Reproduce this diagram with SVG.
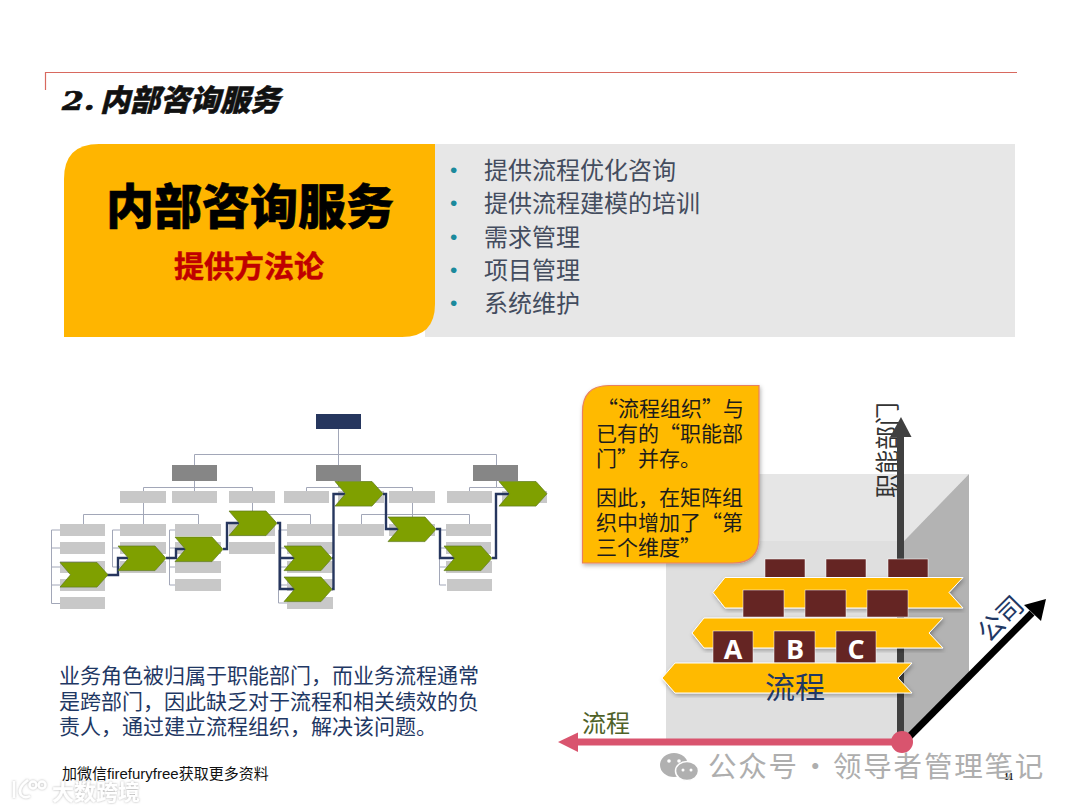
<svg xmlns="http://www.w3.org/2000/svg" width="1080" height="810" viewBox="0 0 1080 810" lang="zh-CN">
<style>
text{font-family:"Noto Sans CJK SC","Noto Sans",sans-serif}
.bul{font-size:24px;fill:#434c5e}
.dot{font-size:21px;fill:#1b8a9c;font-family:"Liberation Sans",sans-serif}
.body{font-size:21px;fill:#1f3864}
.call{font-size:21px;fill:#1c1c1c}
.n1{fill:#26365e}.n2{fill:#868686}.n3{fill:#c8c8c8}
.thin{fill:none;stroke:#a2a7b8;stroke-width:1}
.chev{fill:#7fa000;stroke:#5f7a1c;stroke-width:.7}
.flow{fill:none;stroke:#26365e;stroke-width:2.400}
.rib{fill:#ffba00;stroke:#fff;stroke-width:1}
.sq{fill:#652523;stroke:#fff;stroke-width:.5}
.abc{font-size:27px;font-weight:700;fill:#fff;text-anchor:middle;font-family:"Open Sans","Noto Sans",sans-serif}
.wm{font-size:28.500px;fill:#aeaeae;letter-spacing:1.800px}
</style>
<defs>
<filter id="sh" x="-10%" y="-10%" width="125%" height="125%"><feDropShadow dx="1" dy="2" stdDeviation="2" flood-color="#000" flood-opacity=".3"/></filter>
<filter id="ws" x="-20%" y="-30%" width="140%" height="160%"><feDropShadow dx="0" dy="0" stdDeviation="1.300" flood-color="#777" flood-opacity=".6"/></filter>
<g id="c"><path class="chev" d="M0 0H37L48 12.300L37 24.600H0L10.500 12.300Z"/></g>
</defs>

<rect width="1080" height="810" fill="#fff"/>

<g id="header">
<path d="M45.500 90V72.500H1017" fill="none" stroke="#d8695f" stroke-width="1.200"/>
<text transform="translate(62 110) scale(1.120 .9)" font-size="28" font-weight="900" font-style="italic" fill="#111" stroke="#111" stroke-width=".8" style="font-family:'DejaVu Serif',serif">2.</text>
<text x="100" y="111" font-size="30" font-weight="900" font-style="italic" fill="#111" stroke="#111" stroke-width=".5">内部咨询服务</text>
</g>

<g id="panel">
<rect x="425" y="144" width="590" height="193" fill="#e7e7e7"/>
<path d="M64 337V179Q64 144 99 144H435V304Q435 337 402 337Z" fill="#ffb500"/>
<text x="250" y="224" font-size="48" font-weight="900" text-anchor="middle" fill="#000" stroke="#000" stroke-width=".6">内部咨询服务</text>
<text x="249" y="277" font-size="30" font-weight="700" text-anchor="middle" fill="#c00000" stroke="#c00000" stroke-width=".5">提供方法论</text>
<g>
<text class="dot" x="450" y="177">•</text><text class="bul" x="484" y="179">提供流程优化咨询</text>
<text class="dot" x="450" y="210">•</text><text class="bul" x="484" y="212">提供流程建模的培训</text>
<text class="dot" x="450" y="244">•</text><text class="bul" x="484" y="246">需求管理</text>
<text class="dot" x="450" y="277">•</text><text class="bul" x="484" y="279">项目管理</text>
<text class="dot" x="450" y="310">•</text><text class="bul" x="484" y="312">系统维护</text>
</g>
</g>

<g id="org-lines">
<path class="thin" d="M338.500 429V465M194.500 465V454.500H496.500V465M194.500 481V491M143.500 491V487.500H252.500V491M306.500 491V487.500H412.500V491M338.500 481V488M496.500 481V487.500H469.500V491M496.500 487.500H525V491"/>
<path class="thin" d="M143.500 503V524M83.500 524V514.500H198.500V524M252.500 503V514.500H310.500V524M412.500 503V524M361.500 524V514.500H469.500V524"/>
<path class="thin" d="M60 530H51.500V603.500H60M51.500 548H60M51.500 567H60M51.500 585H60"/>
<path class="thin" d="M120 530H112.500V567H120M112.500 548H120"/>
<path class="thin" d="M175 530H169.500V585H175M169.500 548H175M169.500 567H175"/>
<path class="thin" d="M287 530H278.500V603H287M278.500 548H287M278.500 567H287M278.500 585H287"/>
<path class="thin" d="M446 530H439.500V585H446M439.500 548H446M439.500 567H446"/>
</g>

<g id="org-nodes">
<rect class="n1" x="316" y="414" width="45" height="15"/>
<rect class="n2" x="172" y="465" width="45" height="16"/><rect class="n2" x="316" y="465" width="45" height="16"/><rect class="n2" x="473" y="465" width="45" height="16"/>
<g class="n3">
<rect x="120" y="491" width="46" height="12"/><rect x="172" y="491" width="45" height="12"/><rect x="229" y="491" width="46" height="12"/><rect x="284" y="491" width="45" height="12"/><rect x="338" y="491" width="46" height="12"/><rect x="389" y="491" width="46" height="12"/><rect x="447" y="491" width="45" height="12"/><rect x="502" y="491" width="45" height="12"/>
<rect x="60" y="524" width="45" height="12"/><rect x="120" y="524" width="46" height="12"/><rect x="175" y="524" width="46" height="12"/><rect x="229" y="524" width="46" height="12"/><rect x="287" y="524" width="46" height="12"/><rect x="338" y="524" width="46" height="12"/><rect x="389" y="524" width="46" height="12"/><rect x="446" y="524" width="45" height="12"/>
<rect x="60" y="542" width="45" height="12"/><rect x="120" y="542" width="46" height="12"/><rect x="175" y="542" width="46" height="12"/><rect x="229" y="542" width="46" height="12"/><rect x="287" y="542" width="46" height="12"/><rect x="446" y="542" width="45" height="12"/>
<rect x="60" y="561" width="45" height="12"/><rect x="120" y="561" width="46" height="12"/><rect x="175" y="561" width="46" height="12"/><rect x="287" y="561" width="46" height="12"/><rect x="446" y="561" width="46" height="12"/>
<rect x="60" y="579" width="45" height="12"/><rect x="175" y="579" width="46" height="12"/><rect x="287" y="579" width="46" height="12"/><rect x="447" y="579" width="45" height="12"/>
<rect x="60" y="597" width="45" height="12"/><rect x="287" y="597" width="46" height="12"/>
</g>
</g>

<g id="connectors">
<path class="flow" d="M107 575H118V558H128M166 558H176V549H186M223 549H227V523H239M277 523H280V589H295M280 558H295M332 589H333.500V494H345M332 558H333.500M383 494H386V529H399M436 529H440V558H455M492 558H496V494H509"/>
</g>

<g id="org-chevrons">
<use href="#c" x="60" y="562.500"/><use href="#c" x="118" y="546"/><use href="#c" x="175" y="537"/><use href="#c" x="229" y="511"/><use href="#c" x="284" y="546"/><use href="#c" x="284" y="577"/><use href="#c" x="335" y="481.500"/><use href="#c" x="388" y="517"/><use href="#c" x="444" y="546"/><use href="#c" x="499" y="481.500"/>
</g>

<g id="body-text">
<text class="body" x="59" y="683">业务角色被归属于职能部门，而业务流程通常</text>
<text class="body" x="59" y="709">是跨部门，因此缺乏对于流程和相关绩效的负</text>
<text class="body" x="59" y="734">责人，通过建立流程组织，解决该问题。</text>
</g>

<g id="cube">
<path d="M666 541L733 474H969L904 541V742H666Z" fill="#e6e6e6"/>
<path d="M904 541L969 474V676L904 742Z" fill="#b3b3b3"/>
<rect x="666" y="541" width="238" height="201" fill="#dfdfdf"/>
</g>

<g id="axis-vertical">
<text transform="translate(896 450) rotate(-90)" font-size="24" text-anchor="middle" fill="#333">职能部门</text>
<path d="M900.500 742V436" stroke="#404040" stroke-width="7" fill="none"/>
<path d="M901 417L911.500 437H890Z" fill="#404040"/>
</g>

<g id="callout">
<path d="M582.500 563V412Q582.500 385.500 609 385.500H759V537Q759 563 733 563Z" fill="#ffba00" stroke="#e8805f" stroke-width="1.200" filter="url(#sh)"/>
<text class="call" x="597" y="416">“流程组织”与</text>
<text class="call" x="596" y="441">已有的“职能部</text>
<text class="call" x="596" y="466">门”并存。</text>
<text class="call" x="596" y="505">因此，在矩阵组</text>
<text class="call" x="596" y="530">织中增加了“第</text>
<text class="call" x="596" y="555">三个维度”</text>
</g>

<g id="ribbons">
<rect class="sq" x="765" y="559" width="40" height="19"/><rect class="sq" x="826" y="559" width="40" height="19"/><rect class="sq" x="888" y="559" width="40" height="19"/>
<path class="rib" filter="url(#sh)" d="M713 592.500L725 577.500H963L949 592.500L963 608H725Z"/>
<rect class="sq" x="743" y="590" width="41" height="27"/><rect class="sq" x="805" y="590" width="41" height="27"/><rect class="sq" x="867" y="590" width="41" height="27"/>
<path class="rib" filter="url(#sh)" d="M692 633L704 618H943L929 633L943 648H704Z"/>
<g id="sq-a"><rect class="sq" x="713" y="631" width="40" height="32"/><text class="abc" x="733" y="659">A</text></g>
<g id="sq-b"><rect class="sq" x="774" y="631" width="41" height="32"/><text class="abc" x="795" y="659">B</text></g>
<g id="sq-c"><rect class="sq" x="836" y="631" width="40" height="32"/><text class="abc" x="856" y="659">C</text></g>
<path class="rib" filter="url(#sh)" d="M662 678L675 663H912L898 678L912 693H675Z"/>
<text x="795" y="698" font-size="30" text-anchor="middle" fill="#1f3864">流程</text>
</g>

<g id="axis-company">
<path d="M904 742L1032 613" stroke="#000" stroke-width="7" fill="none"/>
<path d="M1046 599L1041 621L1024 605Z" fill="#000"/>
<text transform="translate(999 617) rotate(-45)" font-size="26" text-anchor="middle" dominant-baseline="central" fill="#1f3864">公司</text>
</g>

<g id="axis-process">
<path d="M904 742H575" stroke="#d9546e" stroke-width="7" fill="none"/>
<path d="M558 742L578 732.500V752Z" fill="#d9546e"/>
<circle cx="902" cy="742" r="11" fill="#d9546e"/>
<text x="582" y="732" font-size="24" fill="#4f6228">流程</text>
</g>

<g id="footer">
<text x="62" y="779" font-size="15" fill="#111" style="font-family:'Liberation Sans','Noto Sans CJK SC',sans-serif">加微信firefuryfree获取更多资料</text>
<text x="1004" y="780" font-size="10" font-weight="700" fill="#222" style="font-family:'Liberation Serif',serif">11</text>
<g id="wechat-mark"><ellipse cx="674" cy="765" rx="14" ry="12" fill="#b0b0b0"/><ellipse cx="687" cy="771" rx="11.500" ry="9.500" fill="#b0b0b0" stroke="#fff" stroke-width="1.500"/><circle cx="669" cy="761" r="1.800" fill="#fff"/><circle cx="679" cy="761" r="1.800" fill="#fff"/><circle cx="683" cy="770" r="1.500" fill="#fff"/><circle cx="691" cy="770" r="1.500" fill="#fff"/></g>
<text class="wm" x="708" y="777">公众号</text>
<text class="wm" x="801" y="777">·</text>
<text class="wm" x="833" y="777">领导者管理笔记</text>
<g id="logo" filter="url(#ws)" fill="none" stroke="#fff" stroke-width="2.400"><path d="M14 781V798M28 780Q17 788 21 795Q25 799 30 796"/><circle cx="33" cy="785" r="3.500"/><circle cx="42" cy="785" r="3.500"/></g>
<text x="52" y="800" font-size="22" font-weight="700" fill="#fff" filter="url(#ws)">大数跨境</text>
</g>
</svg>
